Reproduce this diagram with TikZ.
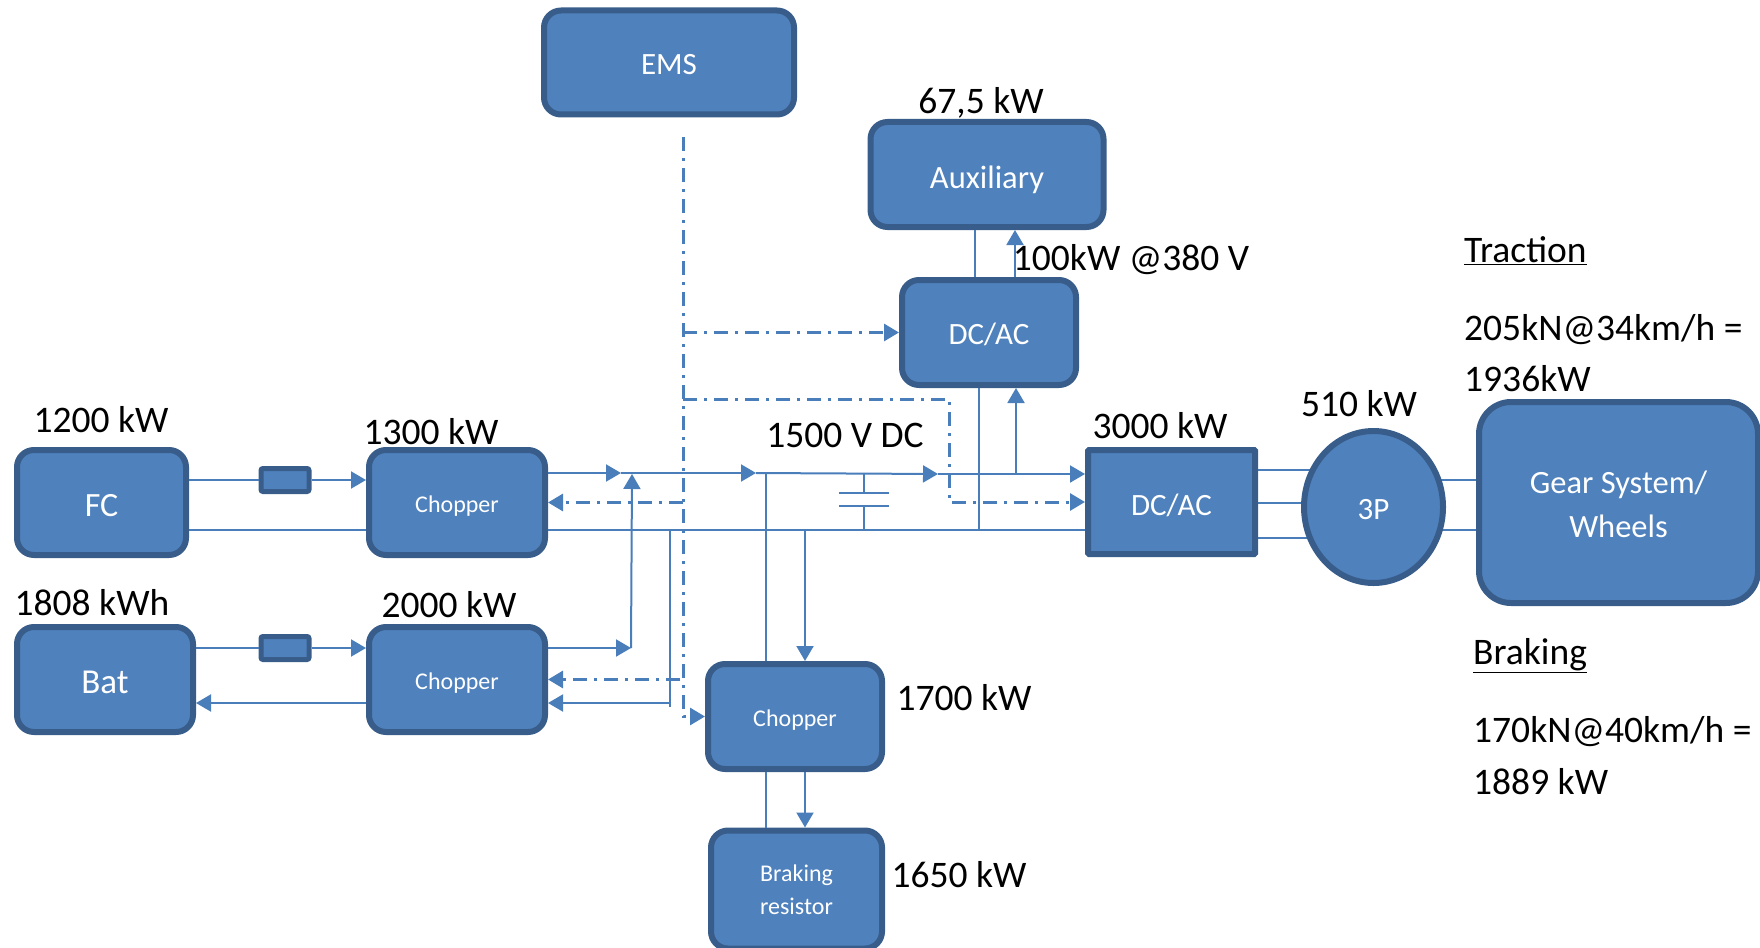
\documentclass[tikz,border=0pt]{standalone}
\usepackage{fontspec}
\setmainfont{Carlito}
\usepackage{xcolor}
\usetikzlibrary{arrows.meta,positioning,calc,shapes.geometric,backgrounds}
\definecolor{blockfill}{HTML}{4F81BD}
\definecolor{blockedge}{HTML}{385D8A}
\definecolor{wirecol}{HTML}{4A7EBB}
\tikzset{
  blockbox/.style={draw=blockedge,fill=blockfill,line width=6pt,rounded corners=17pt,text=white,align=center,inner sep=0pt,font=\fontsize{31}{44}\selectfont},
  midtext/.style={text height=#1,text depth=0pt},
  smalltext/.style={font=\fontsize{24}{33}\selectfont},
  fusebox/.style={draw=blockedge,fill=blockfill,line width=5pt,rounded corners=2pt,minimum width=48pt,minimum height=23pt,inner sep=0pt},
  ratelabel/.style={text=black,inner sep=0pt,font=\fontsize{37.5}{44}\selectfont},
  wire/.style={draw=wirecol,line width=2pt},
  wiretip/.style={wire,-{Triangle[length=15pt,width=17pt]}},
  ctrl/.style={draw=wirecol,line width=3pt,dash pattern=on 14pt off 7pt on 3pt off 7pt,-{Triangle[length=15pt,width=17pt,fill=wirecol]}}
}
\begin{document}
\begin{tikzpicture}[x=1pt,y=-1pt]
  \useasboundingbox (0,0) rectangle (1760,947);
  \node[blockbox,midtext=25pt,minimum width=250pt,minimum height=104pt] (ems) at (669,62.5) {EMS};
  \node[blockbox,midtext=27pt,minimum width=233pt,minimum height=105pt,font=\fontsize{32.5}{40}\selectfont] (aux) at (987,174.5) {Auxiliary};
  \node[blockbox,midtext=24pt,minimum width=174pt,minimum height=105pt] (dcac) at (989,332.5) {DC/AC};
  \node[blockbox,midtext=28pt,minimum width=169pt,minimum height=105pt,font=\fontsize{34}{40}\selectfont] (fc) at (101.5,502.5) {FC};
  \node[blockbox,midtext=28pt,minimum width=176pt,minimum height=105pt,font=\fontsize{35}{40}\selectfont] (bat) at (105,679.5) {Bat};
  \node[blockbox,smalltext,midtext=20pt,minimum width=176pt,minimum height=105pt] (chopa) at (457,502.5) {Chopper};
  \node[blockbox,smalltext,midtext=20pt,minimum width=176pt,minimum height=105pt] (chopb) at (457,679.5) {Chopper};
  \node[blockbox,smalltext,midtext=20pt,minimum width=174pt,minimum height=105pt] (chopc) at (795,716.5) {Chopper};
  \node[blockbox,smalltext,minimum width=171pt,minimum height=118pt] (res) at (796.5,889.5) {Braking\\resistor};
  \node[blockbox,midtext=26pt,rounded corners=1pt,minimum width=167pt,minimum height=104pt] (inv) at (1171.5,502) {DC/AC};
  \node[blockbox,midtext=25pt,ellipse,minimum width=139pt,minimum height=152pt] (mot) at (1373.5,507) {3P};
  \node[blockbox,midtext=69pt,rounded corners=32pt,minimum width=279pt,minimum height=201pt,font=\fontsize{32.5}{44}\selectfont] (gear) at (1618.5,502.5) {Gear System/\\Wheels};
  \node[fusebox] (fusea) at (285,480) {};
  \node[fusebox] (fuseb) at (285,648) {};

  \coordinate (busa) at (621,473);
  \coordinate (busb) at (756,473);
  \coordinate (busc) at (938,474);
  \coordinate (busd) at (632,530);
  \coordinate (ret) at (670,530);
  \coordinate (retend) at (670,707);
  \coordinate (emsdrop) at (683,137);
  \coordinate (ctrlbus) at (949,399);

  \draw[wire] (fc.east|-fusea) -- (fusea);
  \draw[wiretip] (fusea) -- (chopa.west|-fusea);
  \draw[wire] (bat.east|-fuseb) -- (fuseb);
  \draw[wiretip] (fuseb) -- (chopb.west|-fuseb);
  \draw[wire] (fc.east|-busd) -- (chopa.west|-busd);
  \draw[wiretip] (chopb.west|-0,703) -- (bat.east|-0,703);

  \draw[wiretip] (chopa.east|-busa) -- (busa);
  \draw[wiretip] (busa) -- (busb);
  \draw[wiretip] (busb) -- (busc);
  \draw[wiretip] (busc) -- (inv.west|-busc);
  \draw[wire] (chopa.east|-busd) -- (inv.west|-busd);
  \draw[wiretip] (chopb.east|-0,648) -- (631,648);
  \draw[wiretip] (631,648) -- (632,474);
  \draw[wire] (ret) -- (retend);
  \draw[wiretip] (ret|-0,703) -- (chopb.east|-0,703);

  \draw[wire] (766,473) -- (chopc.north-|766,0);
  \draw[wiretip] (805,530) -- (chopc.north-|805,0);
  \draw[wire] (chopc.south-|766,0) -- (res.north-|766,0);
  \draw[wiretip] (chopc.south-|805,0) -- (res.north-|805,0);

  \draw[wire] (864,473) -- (864,493);
  \draw[wire] (839,493) -- (889,493);
  \draw[wire] (839,506) -- (889,506);
  \draw[wire] (864,506) -- (864,530);

  \draw[wire] (dcac.south-|979,0) -- (979,530);
  \draw[wiretip] (1016,474) -- (dcac.south-|1016,0);
  \draw[wire] (dcac.north-|975,0) -- (aux.south-|975,0);
  \draw[wiretip] (dcac.north-|1015,0) -- (aux.south-|1015,0);

  \begin{scope}[on background layer]
    \foreach \y in {470,503,538} {
      \draw[wire] (inv.east|-0,\y) -- (mot.center|-0,\y);
    }
    \foreach \y in {480,530} {
      \draw[wire] (mot.center|-0,\y) -- (gear.west|-0,\y);
    }
  \end{scope}

  \draw[ctrl] (emsdrop) |- (chopc.west);
  \draw[ctrl] (emsdrop|-dcac.west) -- (dcac.west);
  \draw[ctrl] (emsdrop|-ctrlbus) -| (ctrlbus|-inv.west) -- (inv.west);
  \draw[ctrl] (emsdrop|-chopa.east) -- (chopa.east);
  \draw[ctrl] (680,679.5) -- (chopb.east);

  \node[ratelabel] (fcrate) at (101,420) {1200 kW};
  \node[ratelabel] (chopadrate) at (431,432) {1300 kW};
  \node[ratelabel] (batrate) at (92,603) {1808 kWh};
  \node[ratelabel] (chopbrate) at (449,605) {2000 kW};
  \node[ratelabel] (busrate) at (845,435) {1500 V DC};
  \node[ratelabel] (auxrate) at (981,103) {67,5 kW};
  \node[ratelabel] (dcacrate) at (1131,260) {100kW @380 V};
  \node[ratelabel] (invrate) at (1160,426) {3000 kW};
  \node[ratelabel] (motrate) at (1359,404) {510 kW};
  \node[ratelabel] (chopcrate) at (964,698) {1700 kW};
  \node[ratelabel] (resrate) at (959,875) {1650 kW};
  \node[ratelabel,anchor=west] (tractitle) at (1464,251) {\underline{Traction}};
  \node[ratelabel,anchor=west] (tracforce) at (1464,330) {205kN@34km/h =};
  \node[ratelabel,anchor=west] (tracpower) at (1464,379) {1936kW};
  \node[ratelabel,anchor=west] (braktitle) at (1473,656) {\underline{Braking}};
  \node[ratelabel,anchor=west] (brakforce) at (1473,732) {170kN@40km/h =};
  \node[ratelabel,anchor=west] (brakpower) at (1473,782) {1889 kW};
\end{tikzpicture}
\end{document}
